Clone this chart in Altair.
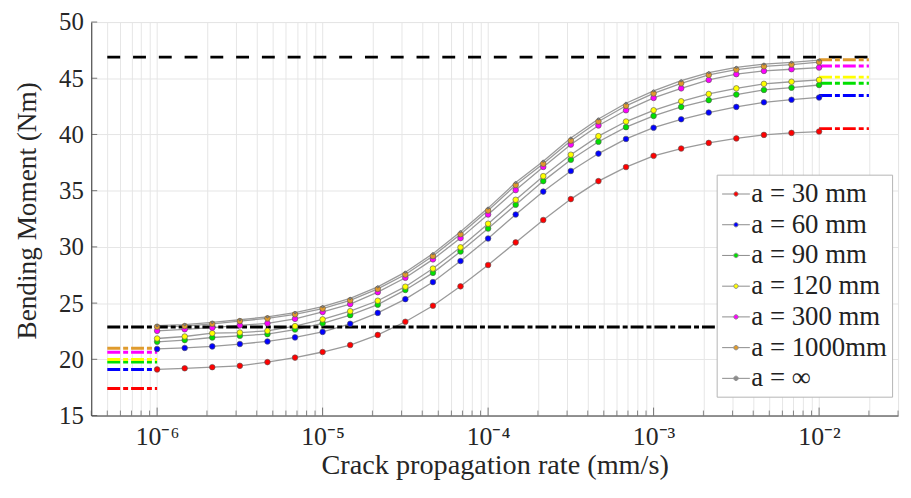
import altair as alt
import pandas as pd

# ---------------- data ----------------
rates = [1.000e-6, 1.468e-6, 2.154e-6, 3.162e-6, 4.642e-6, 6.813e-6,
         1.000e-5, 1.468e-5, 2.154e-5, 3.162e-5, 4.642e-5, 6.813e-5,
         1.000e-4, 1.468e-4, 2.154e-4, 3.162e-4, 4.642e-4, 6.813e-4,
         1.000e-3, 1.468e-3, 2.154e-3, 3.162e-3, 4.642e-3, 6.813e-3,
         1.000e-2]

series_names = ["a = 30 mm", "a = 60 mm", "a = 90 mm", "a = 120 mm",
                "a = 300 mm", "a = 1000mm", "a = \u221e"]
series_colors = ["#ff0000", "#0000ff", "#00e000", "#ffff00",
                 "#ff00ff", "#e09b2d", "#8c8c8c"]

m30 = [19.10, 19.20, 19.30, 19.42, 19.75, 20.15, 20.65, 21.27, 22.17, 23.34,
       24.77, 26.49, 28.39, 30.40, 32.39, 34.25, 35.85, 37.10, 38.10, 38.75,
       39.25, 39.65, 39.96, 40.14, 40.26]
m60 = [20.92, 21.01, 21.15, 21.36, 21.59, 21.95, 22.44, 23.16, 24.13, 25.35,
       26.87, 28.74, 30.75, 32.88, 34.92, 36.75, 38.30, 39.60, 40.60, 41.35,
       41.95, 42.45, 42.86, 43.09, 43.29]
m90 = [21.56, 21.71, 21.94, 22.09, 22.24, 22.65, 23.20, 23.93, 24.86, 26.17,
       27.69, 29.59, 31.63, 33.75, 35.85, 37.75, 39.35, 40.65, 41.65, 42.45,
       43.05, 43.55, 43.96, 44.16, 44.40]
m120 = [21.85, 22.03, 22.32, 22.38, 22.53, 22.95, 23.55, 24.28, 25.21, 26.46,
        28.07, 29.96, 32.06, 34.19, 36.29, 38.20, 39.85, 41.15, 42.15, 42.95,
        43.60, 44.10, 44.50, 44.69, 44.85]
m300 = [22.53, 22.67, 22.81, 23.02, 23.20, 23.60, 24.21, 24.91, 25.97, 27.25,
        28.89, 30.78, 32.88, 35.05, 37.11, 39.10, 40.80, 42.15, 43.25, 44.10,
        44.85, 45.36, 45.65, 45.80, 45.95]
m1000 = [22.90, 22.96, 23.16, 23.40, 23.64, 24.00, 24.51, 25.24, 26.26, 27.54,
         29.18, 31.13, 33.23, 35.50, 37.40, 39.45, 41.15, 42.55, 43.65, 44.55,
         45.30, 45.77, 46.06, 46.22, 46.44]
minf = [23.00, 23.08, 23.28, 23.52, 23.78, 24.15, 24.68, 25.42, 26.45, 27.75,
        29.40, 31.35, 33.45, 35.72, 37.62, 39.68, 41.38, 42.78, 43.88, 44.78,
        45.50, 45.97, 46.26, 46.42, 46.62]
curves = [m30, m60, m90, m120, m300, m1000, minf]

# short dash-dot limit segments
left_start, left_end = 5e-7, 1e-6
right_start, right_end = 1e-2, 2e-2
left_levels = [17.40, 19.09, 19.75, 19.99, 20.63, 20.98]
right_levels = [40.52, 43.46, 44.55, 45.10, 46.09, 46.65]
upper_limit = 46.88      # black dashed
upper_span = (5e-7, 2e-2)
lower_limit = 22.88      # black dash-dot
lower_span = (5e-7, 1e-2)

x_domain = [4e-7, 3e-2]
y_domain = [15, 50]
major_ticks = [1e-6, 1e-5, 1e-4, 1e-3, 1e-2]
major_labels = ["10\u207b\u2076", "10\u207b\u2075", "10\u207b\u2074", "10\u207b\u00b3", "10\u207b\u00b2"]
minor_ticks = [4e-7, 5e-7, 6e-7, 7e-7, 8e-7, 9e-7]
for d in [1e-6, 1e-5, 1e-4, 1e-3]:
    minor_ticks += [d * k for k in range(2, 10)]
minor_ticks += [2e-2, 3e-2]
y_ticks = [15, 20, 25, 30, 35, 40, 45, 50]

# ---------------- tables ----------------
rows = []
for name, vals in zip(series_names, curves):
    for r, v in zip(rates, vals):
        rows.append({"rate": r, "moment": v, "series": name})
df = pd.DataFrame(rows)

seg_rows = []
for c, lv, rv in zip(series_colors[:6], left_levels, right_levels):
    seg_rows.append({"x": left_start, "x2": left_end, "y": lv, "c": c})
    seg_rows.append({"x": right_start, "x2": right_end, "y": rv, "c": c})
seg_rows.append({"x": lower_span[0], "x2": lower_span[1], "y": lower_limit, "c": "#000000"})
segs = pd.DataFrame(seg_rows)
upper = pd.DataFrame([{"x": upper_span[0], "x2": upper_span[1], "y": upper_limit}])

all_ticks = sorted(set(minor_ticks + major_ticks))
xt = pd.DataFrame({"t": all_ticks,
                   "major": [any(abs(t / m - 1) < 1e-6 for m in major_ticks) for t in all_ticks]})
yt = pd.DataFrame({"t": y_ticks})

label_expr = ""
for v, lab in zip(major_ticks, major_labels):
    label_expr += f"(datum.value > {v*0.99} && datum.value < {v*1.01}) ? '{lab}' : "
label_expr += "''"

FONT = "Liberation Serif"
H = 397
xscale = alt.Scale(type="log", domain=x_domain, nice=False)
yscale = alt.Scale(domain=y_domain, nice=False, zero=False)

xaxis = alt.Axis(values=all_ticks, labelExpr=label_expr, grid=True, ticks=False,
                 title="Crack propagation rate (mm/s)", labelFontSize=26,
                 titleFontSize=28.5, labelPadding=8, titlePadding=2,
                 labelFont=FONT, titleFont=FONT, titleFontWeight="normal",
                 labelFlush=False, labelOverlap=False)
yaxis = alt.Axis(values=y_ticks, grid=True, ticks=False, title="Bending Moment (Nm)",
                 labelFontSize=25, titleFontSize=27.5, labelPadding=8, titlePadding=17,
                 titleY=190,
                 labelFont=FONT, titleFont=FONT, titleFontWeight="normal")

X = alt.X("rate:Q", scale=xscale, axis=xaxis)
Y = alt.Y("moment:Q", scale=yscale, axis=yaxis)

lines = alt.Chart(df).mark_line(color="#9a9a9a", strokeWidth=1.3).encode(
    x=X, y=Y, detail="series:N")

dashdot = alt.Chart(segs).mark_rule(strokeWidth=3, strokeDash=[13, 3, 5, 3]).encode(
    x=alt.X("x:Q", scale=xscale), x2="x2:Q",
    y=alt.Y("y:Q", scale=yscale),
    color=alt.Color("c:N", scale=None))

dashed = alt.Chart(upper).mark_rule(strokeWidth=3, strokeDash=[13, 13], color="#000000").encode(
    x=alt.X("x:Q", scale=xscale), x2="x2:Q", y=alt.Y("y:Q", scale=yscale))

legend_symbol = ("M-1,0H-0.16M0.16,0H1M-0.16,0A0.16,0.16,0,1,0,0.16,0"
                 "A0.16,0.16,0,1,0,-0.16,0Z")
points = alt.Chart(df).mark_circle(opacity=1, stroke="#555555", strokeWidth=0.6).encode(
    x=X, y=Y,
    size=alt.condition("datum.series == 'a = \u221e'", alt.value(5), alt.value(32)),
    fill=alt.Fill("series:N", sort=series_names,
                  scale=alt.Scale(domain=series_names, range=series_colors),
                  legend=alt.Legend(title=None, orient="none", legendX=631, legendY=154,
                                    symbolType=legend_symbol, symbolSize=784,
                                    symbolStrokeColor="#8c8c8c", symbolStrokeWidth=1,
                                    labelFont=FONT, labelFontSize=27, labelColor="#222222",
                                    labelOffset=1, rowPadding=3, padding=5,
                                    fillColor="#ffffff", strokeColor="#b4b4b4")))

xticks_minor = alt.Chart(xt[~xt["major"]]).mark_rule(color="#555555", strokeWidth=0.7).encode(
    x=alt.X("t:Q", scale=xscale), y=alt.value(H), y2=alt.value(H - 5))
xticks_major = alt.Chart(xt[xt["major"]]).mark_rule(color="#555555", strokeWidth=0.8).encode(
    x=alt.X("t:Q", scale=xscale), y=alt.value(H), y2=alt.value(H - 8))
yticks = alt.Chart(yt).mark_rule(color="#555555", strokeWidth=0.8).encode(
    y=alt.Y("t:Q", scale=yscale), x=alt.value(0), x2=alt.value(6))

chart = alt.layer(lines, dashed, dashdot, points, xticks_minor, xticks_major, yticks).properties(
    width=814, height=H,
    background="#ffffff",
    autosize=alt.AutoSizeParams(type="none"),
    padding={"left": 84, "top": 12, "right": 5, "bottom": 75},
).configure_axis(
    labelFont=FONT, titleFont=FONT, labelColor="#262626", titleColor="#262626",
    titleFontWeight="normal", domainColor="#333333", domainWidth=1,
    gridColor="#e6e6e6", gridWidth=1
).configure_view(stroke="#e6e6e6")

chart.save("out.html", embed_options={"renderer": "svg", "actions": False})
